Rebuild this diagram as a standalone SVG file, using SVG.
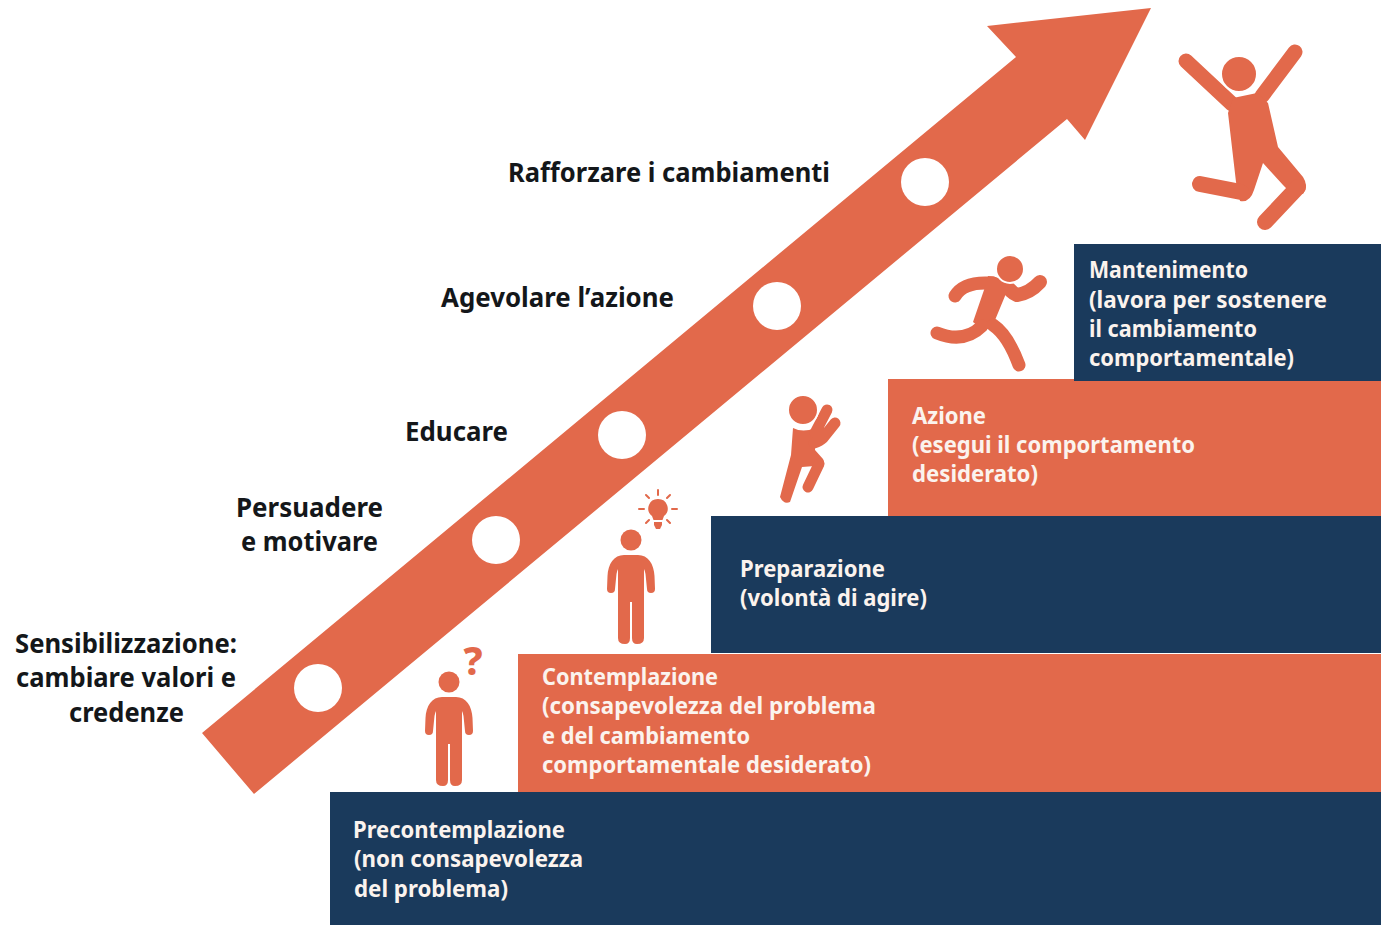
<svg xmlns="http://www.w3.org/2000/svg" width="1381" height="925" viewBox="0 0 1381 925">
<style>
text{font-family:"Noto Sans","Liberation Sans",sans-serif;font-weight:700}
.l{font-size:27px;fill:#14171a}
.w{font-size:23.5px;fill:#fbf3ee}
.o{fill:#e2694b}
.n{fill:#1a3a5c}
.s{fill:none;stroke:#e2694b;stroke-linecap:round;stroke-linejoin:round}
.c{fill:#fff}
.h{fill:#e2694b;stroke:#fff;stroke-width:2}
</style>
<defs>
<path id="person" d="M-7 15H7C17 15 23 24 23.500 36L24 49Q24 53 20 53Q16 53 16 49L14.500 34Q14 31 13 29V98Q13 104 6 104Q1 104 1 98V62H-1V98Q-1 104-6 104Q-13 104-13 98V29Q-14 31-14.500 34L-16 49Q-16 53-20 53Q-24 53-24 49L-23.500 36C-23 24-17 15-7 15Z"/>
</defs>
<rect width="1381" height="925" fill="#fff"/>
<g id="arrow">
<polygon class="o" points="202,733 1016,57 987,26 1151,8 1085,140 1067,119 254,794"/>
<circle class="c" cx="318" cy="688" r="24"/>
<circle class="c" cx="496" cy="540" r="24"/>
<circle class="c" cx="622" cy="435" r="24"/>
<circle class="c" cx="777" cy="306" r="24"/>
<circle class="c" cx="925" cy="182" r="24"/>
</g>
<g id="step1"><rect class="n" x="330" y="792" width="1051" height="133"/>
<text class="w" x="353" y="838" textLength="212" lengthAdjust="spacingAndGlyphs">Precontemplazione</text>
<text class="w" x="354" y="867" textLength="229" lengthAdjust="spacingAndGlyphs">(non consapevolezza</text>
<text class="w" x="354" y="897" textLength="154" lengthAdjust="spacingAndGlyphs">del problema)</text></g>
<g id="step2"><rect class="o" x="518" y="654" width="863" height="138"/>
<text class="w" x="542" y="685" textLength="176" lengthAdjust="spacingAndGlyphs">Contemplazione</text>
<text class="w" x="542" y="714" textLength="334" lengthAdjust="spacingAndGlyphs">(consapevolezza del problema</text>
<text class="w" x="542" y="744" textLength="208" lengthAdjust="spacingAndGlyphs">e del cambiamento</text>
<text class="w" x="542" y="773" textLength="329" lengthAdjust="spacingAndGlyphs">comportamentale desiderato)</text></g>
<g id="step3"><rect class="n" x="711" y="516" width="670" height="137"/>
<text class="w" x="740" y="577" textLength="145" lengthAdjust="spacingAndGlyphs">Preparazione</text>
<text class="w" x="740" y="606" textLength="187" lengthAdjust="spacingAndGlyphs">(volontà di agire)</text></g>
<g id="step4"><rect class="o" x="888" y="379" width="493" height="137"/>
<text class="w" x="912" y="424" textLength="74" lengthAdjust="spacingAndGlyphs">Azione</text>
<text class="w" x="912" y="453" textLength="283" lengthAdjust="spacingAndGlyphs">(esegui il comportamento</text>
<text class="w" x="912" y="482" textLength="126" lengthAdjust="spacingAndGlyphs">desiderato)</text></g>
<g id="step5"><rect class="n" x="1074" y="244" width="307" height="137"/>
<text class="w" x="1089" y="278" textLength="159" lengthAdjust="spacingAndGlyphs">Mantenimento</text>
<text class="w" x="1089" y="308" textLength="238" lengthAdjust="spacingAndGlyphs">(lavora per sostenere</text>
<text class="w" x="1089" y="337" textLength="168" lengthAdjust="spacingAndGlyphs">il cambiamento</text>
<text class="w" x="1089" y="366" textLength="205" lengthAdjust="spacingAndGlyphs">comportamentale)</text></g>
<g id="labels">
<text class="l" x="508" y="182" textLength="322" lengthAdjust="spacingAndGlyphs">Rafforzare i cambiamenti</text>
<text class="l" x="441" y="307" textLength="233" lengthAdjust="spacingAndGlyphs">Agevolare l’azione</text>
<text class="l" x="405" y="441" textLength="103" lengthAdjust="spacingAndGlyphs">Educare</text>
<text class="l" x="236" y="517" textLength="147" lengthAdjust="spacingAndGlyphs">Persuadere</text>
<text class="l" x="241" y="551" textLength="137" lengthAdjust="spacingAndGlyphs">e motivare</text>
<text class="l" x="15" y="653" textLength="222" lengthAdjust="spacingAndGlyphs">Sensibilizzazione:</text>
<text class="l" x="16" y="687" textLength="220" lengthAdjust="spacingAndGlyphs">cambiare valori e</text>
<text class="l" x="69" y="722" textLength="115" lengthAdjust="spacingAndGlyphs">credenze</text>
</g>
<g id="person-question">
<circle class="o" cx="449" cy="682" r="10.500"/>
<use href="#person" class="o" x="449" y="682"/>
<text x="473" y="675" font-size="39" style="font-weight:800" fill="#e2694b" text-anchor="middle">?</text>
</g>
<g id="person-idea">
<circle class="o" cx="631" cy="540" r="10.500"/>
<use href="#person" class="o" x="631" y="540"/>
<path class="o" d="M658 499a9.500 9.500 0 0 1 6 17l-1.500 4h-9l-1.500-4a9.500 9.500 0 0 1 6-17ZM654 522h8v3l-2 4h-4l-2-4Z"/>
<path class="s" stroke-width="2" d="M658 490v5M646 495l3 3M670 495l-3 3M639 509h5M672 509h5M646 523l3-3M670 523l-3-3"/>
</g>
<g id="person-climb">
<path class="o" d="M793 428Q803 433 815 428L815 450L823 459Q826 464 822 468L815 466L802 467L790 502Q784 505 780 497L791 455Z"/>
<path class="s" stroke-width="11" d="M819 464L808 487M815 433L827 410M835 423L823 438Q820 441 814 443"/>
<circle class="h" cx="803" cy="410" r="15"/>
</g>
<g id="person-run">
<path class="s" stroke-width="13" d="M955 296Q963 283 985 283L993 283"/>
<path class="s" stroke-width="14" d="M1005 283Q1010 292 1017 295Q1030 293 1040 282"/>
<path class="o" d="M988 276Q1000 276 1008 285L1005 296L993 325L982 329L973 322L984 290Z"/>
<path class="s" stroke-width="13" d="M982 326Q964 344 937 333M993 325Q1008 335 1019 365"/>
<circle class="h" cx="1010" cy="269" r="14"/>
</g>
<g id="person-jump">
<path class="s" stroke-width="15" d="M1186 61L1232 104M1295 52L1262 96"/>
<path class="o" d="M1228 113L1233 98L1257 93L1268 103L1278 147L1303 177Q1309 186 1303 194L1290 192L1283 185L1263 163L1254 190Q1250 203 1240 201L1236 182Z"/>
<path class="s" stroke-width="16" d="M1200 184L1241 192M1298 187L1265 222"/>
<circle class="h" cx="1239" cy="74" r="18"/>
</g>
</svg>
